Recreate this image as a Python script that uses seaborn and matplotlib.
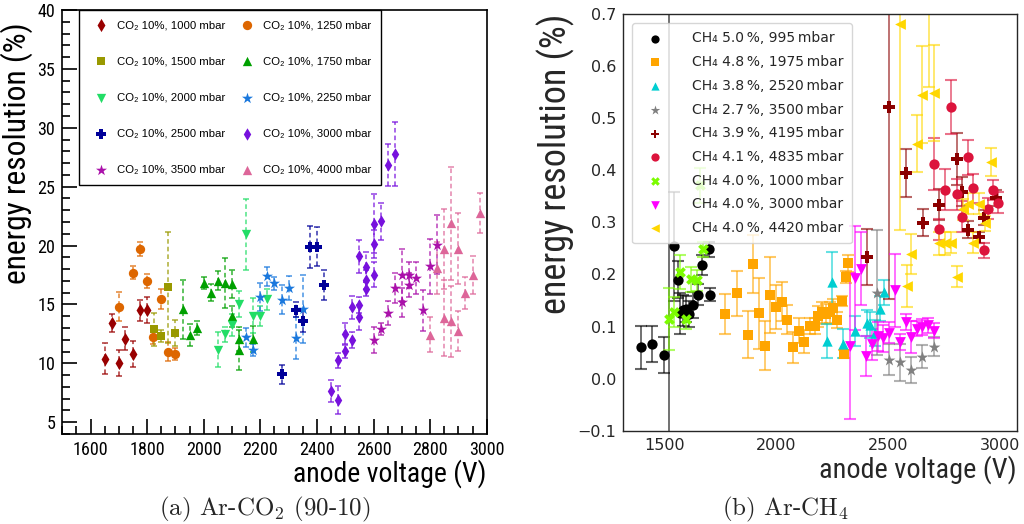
import numpy as np
import pandas as pd
import seaborn as sns
import matplotlib.pyplot as plt
from matplotlib import font_manager
from matplotlib.ticker import MultipleLocator

# ---------------- (a) Ar-CO2 (90-10): anode voltage (V), resolution (%), error (%)
co2_1000_v = [1650, 1676, 1700, 1720, 1750, 1775, 1800]
co2_1000_r = [10.4, 13.4, 10.0, 12.1, 10.8, 14.5, 14.55]
co2_1000_e = [1.35, 0.75, 1.1, 1.0, 1.1, 0.9, 1.1]

co2_1250_v = [1700, 1750, 1775, 1800, 1820, 1850, 1875, 1900]
co2_1250_r = [14.8, 17.7, 19.7, 17.0, 12.2, 15.5, 11.0, 10.8]
co2_1250_e = [1.25, 0.55, 0.6, 0.6, 0.6, 0.85, 0.8, 0.5]

co2_1500_v = [1825, 1850, 1875, 1900]
co2_1500_r = [12.9, 12.3, 16.45, 12.6]
co2_1500_e = [1.4, 0.5, 4.7, 1.1]

co2_1750_v = [1925, 1950, 1975, 2000, 2025, 2050, 2075, 2100, 2100, 2125, 2125, 2175]
co2_1750_r = [14.6, 12.4, 13.0, 16.8, 16.0, 17.0, 16.8, 16.75, 14.0, 12.05, 11.15, 12.05]
co2_1750_e = [2.5, 0.9, 0.6, 0.5, 0.7, 0.8, 2.1, 1.2, 0.9, 1.0, 1.7, 1.1]

co2_2000_v = [2050, 2075, 2100, 2125, 2150, 2175, 2200, 2225]
co2_2000_r = [11.15, 12.45, 13.25, 15.05, 20.95, 14.05, 14.0, 15.45]
co2_2000_e = [1.5, 0.65, 0.9, 1.1, 3.0, 1.5, 0.85, 0.9]

co2_2250_v = [2150, 2175, 2200, 2225, 2250, 2275, 2300, 2325, 2350]
co2_2250_r = [12.2, 11.15, 15.6, 17.4, 16.8, 15.4, 16.4, 12.15, 14.6]
co2_2250_e = [0.8, 0.5, 1.2, 0.8, 0.55, 1.25, 1.05, 1.8, 2.9]

co2_2500_v = [2275, 2325, 2350, 2375, 2400, 2425]
co2_2500_r = [9.05, 14.55, 13.55, 19.85, 19.9, 16.65]
co2_2500_e = [0.8, 0.65, 0.9, 1.8, 1.65, 1.3]

co2_3000_v = [2450, 2475, 2475, 2500, 2500, 2525, 2525, 2550, 2550, 2550,
              2575, 2575, 2575, 2600, 2600, 2600, 2625, 2650, 2675]
co2_3000_r = [7.65, 6.87, 10.25, 11.02, 12.52, 12.0, 14.75, 13.9, 14.97, 19.07,
              17.1, 18.17, 16.3, 17.52, 20.14, 21.84, 22.04, 26.84, 27.77]
co2_3000_e = [0.95, 1.2, 0.65, 0.55, 0.9, 0.7, 1.0, 1.05, 0.7, 1.4,
              0.8, 1.3, 0.6, 1.05, 1.2, 2.5, 1.6, 1.8, 2.7]

co2_3500_v = [2600, 2625, 2650, 2675, 2700, 2700, 2725, 2725, 2750, 2775, 2800, 2825]
co2_3500_r = [12.0, 12.94, 14.27, 16.39, 15.17, 17.52, 17.52, 16.67, 17.23, 14.49, 18.22, 20.06]
co2_3500_e = [1.1, 0.5, 1.0, 1.3, 1.2, 2.2, 1.1, 1.0, 1.35, 1.75, 2.3, 2.5]

co2_4000_v = [2800, 2825, 2850, 2850, 2875, 2875, 2900, 2900, 2925, 2950, 2975]
co2_4000_r = [12.43, 18.08, 19.72, 13.84, 21.9, 13.56, 19.72, 12.77, 15.96, 17.52, 22.74]
co2_4000_e = [1.5, 2.2, 3.4, 3.2, 4.8, 3.0, 3.0, 1.7, 1.35, 1.6, 1.7]

co2_pressures = ['1000', '1250', '1500', '1750', '2000', '2250', '2500', '3000', '3500', '4000']

# ---------------- (b) Ar-CH4: anode voltage (V), resolution, error
ch4_a_v = [1393, 1445, 1495, 1521, 1543, 1558, 1568, 1580, 1595, 1607, 1625, 1648, 1666, 1697, 1704]
ch4_a_r = [0.060, 0.066, 0.045, 0.9, 0.254, 0.190, 0.125, 0.131, 0.133, 0.124, 0.142, 0.161, 0.218, 0.248, 0.161]
ch4_a_e = [0.041, 0.035, 0.034, 1.1, 0.105, 0.036, 0.04, 0.03, 0.025, 0.025, 0.025, 0.02, 0.02, 0.015, 0.012]

ch4_b_v = [1772, 1822, 1873, 1897, 1922, 1948, 1973, 1998, 2024, 2049, 2074, 2100, 2125,
           2150, 2174, 2188, 2205, 2222, 2240, 2252, 2271, 2292, 2301, 2310, 2321]
ch4_b_r = [0.124, 0.164, 0.084, 0.220, 0.125, 0.063, 0.160, 0.138, 0.148, 0.113, 0.060, 0.092, 0.071,
           0.101, 0.101, 0.120, 0.127, 0.124, 0.127, 0.136, 0.113, 0.149, 0.047, 0.195, 0.221]
ch4_b_e = [0.038, 0.043, 0.045, 0.055, 0.069, 0.047, 0.073, 0.042, 0.038, 0.028, 0.03, 0.024, 0.022,
           0.015, 0.015, 0.02, 0.02, 0.02, 0.02, 0.016, 0.015, 0.01, 0.008, 0.011, 0.016]

ch4_c_v = [2225, 2250, 2300, 2350, 2403, 2420, 2440, 2462, 2483]
ch4_c_r = [0.072, 0.186, 0.067, 0.091, 0.106, 0.102, 0.088, 0.134, 0.166]
ch4_c_e = [0.033, 0.058, 0.028, 0.029, 0.025, 0.025, 0.025, 0.024, 0.024]

ch4_d_v = [2452, 2504, 2552, 2603, 2653, 2705]
ch4_d_r = [0.165, 0.036, 0.031, 0.017, 0.042, 0.061]
ch4_d_e = [0.12, 0.03, 0.035, 0.025, 0.022, 0.018]

ch4_e_v = [2403, 2503, 2578, 2654, 2729, 2806, 2832, 2855, 2907, 2930, 2982]
ch4_e_r = [0.233, 0.522, 0.394, 0.299, 0.334, 0.421, 0.359, 0.286, 0.271, 0.309, 0.347]
ch4_e_e = [0.054, 0.37, 0.046, 0.026, 0.03, 0.05, 0.028, 0.016, 0.011, 0.015, 0.016]

ch4_f_v = [2704, 2728, 2756, 2780, 2806, 2831, 2855, 2881, 2928, 2947, 2967, 2993]
ch4_f_r = [0.412, 0.287, 0.363, 0.522, 0.354, 0.311, 0.425, 0.365, 0.246, 0.326, 0.362, 0.338]
ch4_f_e = [0.05, 0.02, 0.04, 0.052, 0.03, 0.03, 0.034, 0.027, 0.015, 0.02, 0.02, 0.02]

ch4_g_v = [1518, 1543, 1569, 1595, 1618, 1643, 1660, 1670]
ch4_g_r = [0.114, 0.128, 0.205, 0.114, 0.191, 0.189, 0.371, 0.248]
ch4_g_e = [0.059, 0.029, 0.033, 0.018, 0.024, 0.02, 0.033, 0.015]

ch4_h_v = [2328, 2350, 2380, 2402, 2429, 2455, 2477, 2504, 2529, 2552, 2579, 2604, 2629, 2653, 2679, 2704]
ch4_h_r = [0.063, 0.193, 0.211, 0.043, 0.066, 0.081, 0.077, 0.088, 0.170, 0.070, 0.109, 0.080, 0.096, 0.099, 0.102, 0.092]
ch4_h_e = [0.14, 0.1, 0.07, 0.038, 0.03, 0.028, 0.025, 0.02, 0.07, 0.015, 0.015, 0.03, 0.015, 0.015, 0.015, 0.015]

ch4_i_v = [2555, 2582, 2604, 2630, 2653, 2683, 2704, 2728, 2753, 2782, 2806, 2833, 2855, 2881, 2906, 2933, 2958]
ch4_i_r = [0.681, 0.178, 0.239, 0.451, 0.545, 0.76, 0.549, 0.260, 0.260, 0.261, 0.196, 0.325, 0.336, 0.261, 0.336, 0.298, 0.415]
ch4_i_e = [0.396, 0.04, 0.038, 0.055, 0.093, 0.2, 0.092, 0.022, 0.022, 0.02, 0.02, 0.02, 0.02, 0.02, 0.02, 0.015, 0.027]

ch4_labels = ['CH₄ 5.0\u2009%, 995\u2009mbar', 'CH₄ 4.8\u2009%, 1975\u2009mbar', 'CH₄ 3.8\u2009%, 2520\u2009mbar',
              'CH₄ 2.7\u2009%, 3500\u2009mbar', 'CH₄ 3.9\u2009%, 4195\u2009mbar', 'CH₄ 4.1\u2009%, 4835\u2009mbar',
              'CH₄ 4.0\u2009%, 1000\u2009mbar', 'CH₄ 4.0\u2009%, 3000\u2009mbar', 'CH₄ 4.0\u2009%, 4420\u2009mbar']

# ---------------- styling
sns.set_style('white')
plt.rcParams['mathtext.fontset'] = 'cm'
plt.rcParams['font.family'] = ['DejaVu Sans']

# pick a narrow sans for the ROOT-like labels if one is installed
ttf = font_manager.fontManager.ttflist
installed = {f.name for f in ttf}
narrow_family, narrow_stretch = 'Liberation Sans', 'normal'
for cand in ['Liberation Sans Narrow', 'Roboto Condensed', 'Open Sans Condensed']:
    if cand in installed:
        narrow_family = cand
        break
else:
    if any(f.name == 'DejaVu Sans' and f.stretch in ('condensed', 'semi-condensed') for f in ttf):
        narrow_family, narrow_stretch = 'DejaVu Sans', 'condensed'

co2_colors = ['#990000', '#dd6600', '#999900', '#00a000', '#22dd66',
              '#1a78dd', '#000099', '#7711dd', '#aa11aa', '#dd6699']
co2_markers = ['d', 'o', 's', '^', 'v', '*', 'P', 'd', '*', '^']
co2_sizes = [45, 45, 40, 45, 45, 70, 55, 40, 70, 45]

ch4_colors = ['black', 'orange', 'darkturquoise', 'gray', 'darkred',
              'crimson', 'lawngreen', 'magenta', 'gold']
ch4_markers = ['o', 's', '^', '*', 'P', 'o', 'X', 'v', '<']
ch4_sizes = [55, 55, 55, 80, 65, 55, 60, 60, 60]

fig = plt.figure(figsize=(10.24, 5.24), dpi=100)
ax1 = fig.add_axes([0.0608, 0.1718, 0.4145, 0.8092])
ax2 = fig.add_axes([0.6087, 0.1781, 0.3842, 0.7952])

# ---------------- left panel
co2_data = [
    (co2_1000_v, co2_1000_r, co2_1000_e), (co2_1250_v, co2_1250_r, co2_1250_e),
    (co2_1500_v, co2_1500_r, co2_1500_e), (co2_1750_v, co2_1750_r, co2_1750_e),
    (co2_2000_v, co2_2000_r, co2_2000_e), (co2_2250_v, co2_2250_r, co2_2250_e),
    (co2_2500_v, co2_2500_r, co2_2500_e), (co2_3000_v, co2_3000_r, co2_3000_e),
    (co2_3500_v, co2_3500_r, co2_3500_e), (co2_4000_v, co2_4000_r, co2_4000_e),
]
for i, (v, r, e) in enumerate(co2_data):
    eb = ax1.errorbar(v, r, yerr=e, fmt='none', ecolor=co2_colors[i], elinewidth=1.1,
                      capsize=2.2, capthick=1.1, alpha=0.8, zorder=2)
    eb[2][0].set_linestyle((0, (3, 2)))
    sns.scatterplot(x=v, y=r, marker=co2_markers[i], color=co2_colors[i], s=co2_sizes[i],
                    linewidth=0, ax=ax1, zorder=3, label=f'CO₂ 10%, {co2_pressures[i]} mbar')

ax1.set_xlim(1500, 3000)
ax1.set_ylim(4, 40)
ax1.xaxis.set_major_locator(MultipleLocator(200))
ax1.xaxis.set_minor_locator(MultipleLocator(50))
ax1.yaxis.set_major_locator(MultipleLocator(5))
ax1.yaxis.set_minor_locator(MultipleLocator(1))
ax1.tick_params(which='both', direction='in', bottom=True, left=True, top=False, right=False,
                colors='black', labelcolor='black', width=1.2)
ax1.tick_params(which='major', length=11, pad=5)
ax1.tick_params(which='minor', length=6)
for sp in ax1.spines.values():
    sp.set_color('black')
    sp.set_linewidth(1.2)
ax1.set_xlabel('anode voltage (V)', loc='right', color='black')
ax1.set_ylabel('energy resolution (%)', loc='top', color='black')

# legend filled row by row like the reference
h, l = ax1.get_legend_handles_labels()
order = [0, 2, 4, 6, 8, 1, 3, 5, 7, 9]
leg1 = ax1.legend([h[k] for k in order], [l[k] for k in order], ncol=2, loc='upper left',
                  bbox_to_anchor=(0.04, 1.0), borderaxespad=0,
                  prop={'family': ['Liberation Sans', 'DejaVu Sans'], 'size': 8.2},
                  labelspacing=2.3, columnspacing=0.93, handletextpad=0.4, borderpad=0.9,
                  fancybox=False, framealpha=1, edgecolor='black')
leg1.get_frame().set_linewidth(1.0)
for t in leg1.get_texts():
    t.set_color('black')

# ---------------- right panel
ch4_data = [
    (ch4_a_v, ch4_a_r, ch4_a_e), (ch4_b_v, ch4_b_r, ch4_b_e), (ch4_c_v, ch4_c_r, ch4_c_e),
    (ch4_d_v, ch4_d_r, ch4_d_e), (ch4_e_v, ch4_e_r, ch4_e_e), (ch4_f_v, ch4_f_r, ch4_f_e),
    (ch4_g_v, ch4_g_r, ch4_g_e), (ch4_h_v, ch4_h_r, ch4_h_e), (ch4_i_v, ch4_i_r, ch4_i_e),
]
for i, (v, r, e) in enumerate(ch4_data):
    ax2.errorbar(v, r, yerr=e, fmt='none', ecolor=ch4_colors[i], elinewidth=1.3,
                 capsize=4.5, capthick=1.5, alpha=0.6, zorder=2)
    sns.scatterplot(x=v, y=r, marker=ch4_markers[i], color=ch4_colors[i], s=ch4_sizes[i],
                    linewidth=0, ax=ax2, zorder=3, label=ch4_labels[i])

ax2.set_xlim(1315, 3075)
ax2.set_ylim(-0.1, 0.7)
ax2.xaxis.set_major_locator(MultipleLocator(500))
ax2.yaxis.set_major_locator(MultipleLocator(0.1))
ax2.tick_params(labelsize=11.5, labelcolor='#262626', length=0, pad=5)
for sp in ax2.spines.values():
    sp.set_color('#262626')
    sp.set_linewidth(1.0)
ax2.set_xlabel('anode voltage (V)', loc='right', color='#262626')
ax2.set_ylabel('energy resolution (%)', loc='top', color='#262626')
leg2 = ax2.legend(loc='upper left', fontsize=10, markerscale=0.8, handletextpad=1.7,
                  labelspacing=0.7, borderpad=0.6, borderaxespad=0.65, framealpha=0.8)

# ---------------- captions
fig.text(0.259, 0.027, r'(a) Ar-CO$_2$ (90-10)', ha='center', va='center', fontsize=18, family='cmr10')
fig.text(0.767, 0.027, r'(b) Ar-CH$_4$', ha='center', va='center', fontsize=18, family='cmr10')

# ---------------- fit the narrow label fonts to the widths seen in the reference
for t in [ax1.xaxis.label, ax1.yaxis.label, ax2.xaxis.label, ax2.yaxis.label]:
    t.set_family(narrow_family)
    t.set_stretch(narrow_stretch)
    t.set_fontsize(19)
ax1.tick_params(labelsize=14)
for t in ax1.get_xticklabels() + ax1.get_yticklabels():
    t.set_family(narrow_family)
    t.set_stretch(narrow_stretch)

fig.canvas.draw()
rend = fig.canvas.get_renderer()
targets = [(ax1.xaxis.label, 194, 'w'), (ax1.yaxis.label, 262, 'h'),
           (ax2.xaxis.label, 197, 'w'), (ax2.yaxis.label, 300, 'h')]
for t, px, dim in targets:
    bb = t.get_window_extent(rend)
    size = bb.width if dim == 'w' else bb.height
    t.set_fontsize(t.get_fontsize() * px / size)
lab = ax1.get_xticklabels()[1]
bb = lab.get_window_extent(rend)
tick_fs = 14 * 36 / bb.width
ax1.tick_params(labelsize=tick_fs)
for t in ax1.get_xticklabels() + ax1.get_yticklabels():
    t.set_family(narrow_family)
    t.set_stretch(narrow_stretch)

ax1.xaxis.set_label_coords(1.0, -0.06)
ax1.yaxis.set_label_coords(-0.07, 0.97)
ax2.xaxis.set_label_coords(1.0, -0.058)
ax2.yaxis.set_label_coords(-0.122, 1.0)

fig.savefig('out.png', dpi=100)
